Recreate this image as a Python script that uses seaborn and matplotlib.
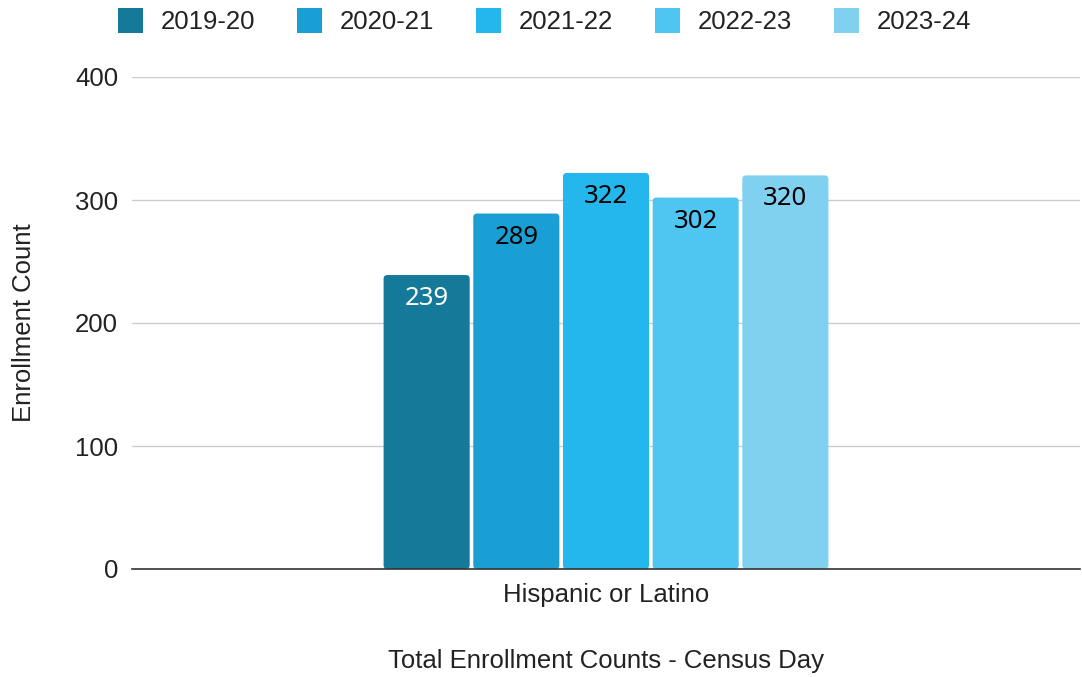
import matplotlib
matplotlib.use("Agg")
import matplotlib.pyplot as plt
import pandas as pd
import seaborn as sns
from matplotlib.lines import Line2D
from matplotlib.patches import FancyBboxPatch

years = ["2019-20", "2020-21", "2021-22", "2022-23", "2023-24"]
counts = [239, 289, 322, 302, 320]
category = "Hispanic or Latino"
colors = ["#157a9a", "#1a9fd4", "#24b7ee", "#4fc6f2", "#80d0f0"]
label_colors = ["white", "black", "black", "black", "black"]
y_ticks = [0, 100, 200, 300, 400]

df = pd.DataFrame({"group": [category] * len(years), "year": years, "count": counts})

sns.set_theme(style="white")
plt.rcParams["font.family"] = ["Liberation Sans", "DejaVu Sans"]
fs = 18.5
txt = "#222222"

fig = plt.figure(figsize=(10.82, 6.77), dpi=100)
ax = fig.add_axes([132 / 1082, 1 - 569 / 677, (1080 - 132) / 1082, (569 - 77) / 677])

sns.barplot(
    data=df, x="group", y="count", hue="year", palette=colors,
    width=0.473, gap=0.04, ax=ax, legend=False, saturation=1,
)

ax.set_xlim(-0.5, 0.5)
ax.set_ylim(0, 400)

# swap the plain bars for slightly rounded ones, same geometry
bars = list(ax.patches)
for bar, val, lc in zip(bars, counts, label_colors):
    x, w, h = bar.get_x(), bar.get_width(), bar.get_height()
    rounded = FancyBboxPatch(
        (x, 0), w, h, boxstyle="round,pad=0,rounding_size=0.004",
        mutation_aspect=400 * (948 / 492),
        facecolor=bar.get_facecolor(), edgecolor="none", zorder=bar.get_zorder(),
    )
    bar.remove()
    ax.add_patch(rounded)
    ax.text(
        x + w / 2, h - 9, str(val),
        ha="center", va="top", fontsize=fs, color=lc, family=["Noto Sans", "DejaVu Sans"],
    )

ax.set_yticks(y_ticks)
ax.yaxis.grid(True, color="#cccccc", linewidth=1)
ax.set_axisbelow(True)
for side in ["top", "right", "left"]:
    ax.spines[side].set_visible(False)
ax.spines["bottom"].set_color("#333333")
ax.spines["bottom"].set_linewidth(1.2)
ax.spines["bottom"].set_zorder(5)
ax.tick_params(axis="y", labelsize=fs, labelcolor=txt, pad=10, length=0)
ax.tick_params(axis="x", labelsize=fs, labelcolor=txt, pad=10, length=0)
ax.set_ylabel("Enrollment Count", fontsize=fs, color=txt, labelpad=28)
ax.set_xlabel("Total Enrollment Counts - Census Day", fontsize=fs, color=txt, labelpad=30)

handles = [
    Line2D([0], [0], marker="s", linestyle="", markersize=18, markerfacecolor=c, markeredgewidth=0)
    for c in colors
]
fig.legend(
    handles, years, loc="upper center", bbox_to_anchor=(0.503, 1.02), ncol=5, frameon=False,
    fontsize=fs, handletextpad=0.7, columnspacing=1.6, labelcolor=txt, handlelength=1.0,
)

fig.savefig("out.png", dpi=100)
plt.close(fig)
